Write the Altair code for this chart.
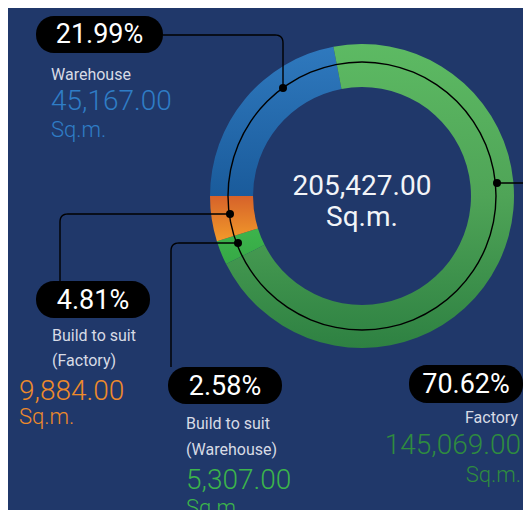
import math
import altair as alt
import pandas as pd

# ---------------- data ----------------
categories = ["Warehouse", "Factory", "Build to suit (Warehouse)", "Build to suit (Factory)"]
areas = [45167.00, 145069.00, 5307.00, 9884.00]
shares = ["21.99%", "70.62%", "2.58%", "4.81%"]
label_lines = [["Warehouse"], ["Factory"], ["Build to suit", "(Warehouse)"], ["Build to suit", "(Factory)"]]
area_texts = ["45,167.00", "145,069.00", "5,307.00", "9,884.00"]
total_text = "205,427.00"
unit = "Sq.m."

# ---------------- styles / layout ----------------
W, H = 515, 502
OFF = 8
BG = "#20386a"
CX, CY = 362 - OFF, 196 - OFF
R_OUT, R_IN, R_LINE = 152, 109, 134
total = sum(areas)

grads = [
    [("#2f79be", 0), ("#1a5b9b", 1)],
    [("#5dba63", 0), ("#4fa457", 0.5), ("#2e8142", 1)],
    [("#3db44c", 0), ("#36a946", 1)],
    [("#d6622a", 0), ("#f29a2a", 1)],
]
value_colors = ["#2f7dc6", "#2f8c3f", "#3cb44b", "#ee8a2a"]
label_color = "#d7dbe5"

# per category: pill box (x1, y1, x2, y2), text anchor x, align, baselines (page pixels)
layout = [
    dict(pill=(36, 16, 163, 53), pct_base=43, ax=51, align="left",
         lab_base=[80], val_base=110, unit_base=137,
         path=[(163, 35), (283, 35), (283, 88)], dot=(283, 88)),
    dict(pill=(409, 365, 523, 403), pct_base=393, ax=518, align="right",
         lab_base=[423], val_base=454, unit_base=482,
         path=[(497, 183), (540, 183)], dot=(497, 183)),
    dict(pill=(168, 367, 282, 404), pct_base=395, ax=186, align="left",
         lab_base=[429, 455], val_base=489, unit_base=515,
         path=[(238, 243), (171, 243), (171, 367)], dot=(238, 243)),
    dict(pill=(36, 281, 150, 318), pct_base=309, ax=52, align="left",
         lab_base=[341, 366], val_base=400, unit_base=424,
         path=[(230, 214), (60, 214), (60, 281)], dot=(230, 214)),
]
val_ax_override = {3: 19, 1: 521}
CORNER_R = 8


def rounded(path, r):
    """Return polyline with rounded interior corners (leader-line geometry)."""
    if len(path) < 3:
        return path
    out = [path[0]]
    for j in range(1, len(path) - 1):
        (ax, ay), (bx, by), (cx, cy) = path[j - 1], path[j], path[j + 1]
        d1 = math.hypot(bx - ax, by - ay)
        d2 = math.hypot(cx - bx, cy - by)
        u1 = ((bx - ax) / d1, (by - ay) / d1)
        u2 = ((cx - bx) / d2, (cy - by) / d2)
        p1 = (bx - u1[0] * r, by - u1[1] * r)
        p2 = (bx + u2[0] * r, by + u2[1] * r)
        n = 8
        for s in range(n + 1):
            t = s / n
            qx = (1 - t) ** 2 * p1[0] + 2 * (1 - t) * t * bx + t ** 2 * p2[0]
            qy = (1 - t) ** 2 * p1[1] + 2 * (1 - t) * t * by + t ** 2 * p2[1]
            out.append((qx, qy))
    out.append(path[-1])
    return out


sx = alt.Scale(domain=[0, W], range=[0, W])
sy = alt.Scale(domain=[0, H], range=[0, H])
theta_scale = alt.Scale(domain=[0, total], range=[1.5 * math.pi, 3.5 * math.pi])

# ---------------- arcs ----------------
df = pd.DataFrame({"category": categories, "area": areas, "order": list(range(len(categories)))})
base = (
    alt.Chart(df)
    .transform_window(end="sum(area)", sort=[alt.SortField("order")], frame=[None, 0])
    .transform_calculate(start="datum.end - datum.area")
)

layers = []
for i, cat in enumerate(categories):
    g = alt.Gradient(
        gradient="linear",
        stops=[alt.GradientStop(color=c, offset=o) for c, o in grads[i]],
        x1=0, x2=0, y1=0, y2=1,
    )
    layers.append(
        base.transform_filter(alt.datum.category == cat)
        .mark_arc(radius=R_OUT, radius2=R_IN, color=g)
        .encode(
            theta=alt.Theta("start:Q", scale=theta_scale),
            theta2="end:Q",
            x=alt.value(CX),
            y=alt.value(CY),
        )
    )

ring_df = pd.DataFrame({"start": [0.0], "end": [total]})
layers.append(
    alt.Chart(ring_df)
    .mark_arc(radius=R_LINE + 0.7, radius2=R_LINE - 0.7, color="#000000")
    .encode(theta=alt.Theta("start:Q", scale=theta_scale), theta2="end:Q",
            x=alt.value(CX), y=alt.value(CY))
)

# ---------------- leaders ----------------
lead_rows, dot_rows, pill_rows = [], [], []
for i, L in enumerate(layout):
    for k, (px, py) in enumerate(rounded(L["path"], CORNER_R)):
        lead_rows.append({"id": i, "k": k, "x": px - OFF, "y": py - OFF})
    dot_rows.append({"x": L["dot"][0] - OFF, "y": L["dot"][1] - OFF})
    x1, y1, x2, y2 = L["pill"]
    pill_rows.append({"x": x1 - OFF, "x2": x2 - OFF, "y": y1 - OFF, "y2": y2 - OFF,
                      "tx": (x1 + x2) / 2 - OFF, "ty": L["pct_base"] - OFF, "pct": shares[i]})

layers.append(
    alt.Chart(pd.DataFrame(lead_rows))
    .mark_line(color="#000000", strokeWidth=1.4, interpolate="linear", clip=True)
    .encode(x=alt.X("x:Q", scale=sx, axis=None), y=alt.Y("y:Q", scale=sy, axis=None),
            detail="id:N", order="k:Q")
)
layers.append(
    alt.Chart(pd.DataFrame(dot_rows))
    .mark_circle(color="#000000", size=64, opacity=1)
    .encode(x=alt.X("x:Q", scale=sx, axis=None), y=alt.Y("y:Q", scale=sy, axis=None))
)
pill_df = pd.DataFrame(pill_rows)
layers.append(
    alt.Chart(pill_df)
    .mark_rect(color="#000000", cornerRadius=18)
    .encode(x=alt.X("x:Q", scale=sx, axis=None), x2="x2:Q",
            y=alt.Y("y:Q", scale=sy, axis=None), y2="y2:Q")
)
layers.append(
    alt.Chart(pill_df)
    .mark_text(font="Roboto", fontSize=27, color="#ffffff", align="center", baseline="alphabetic")
    .encode(x=alt.X("tx:Q", scale=sx, axis=None), y=alt.Y("ty:Q", scale=sy, axis=None), text="pct:N")
)

# ---------------- labels ----------------
for align in ["left", "right"]:
    lab_rows, val_rows, unit_rows = [], [], []
    for i, L in enumerate(layout):
        if L["align"] != align:
            continue
        for t, b in zip(label_lines[i], L["lab_base"]):
            lab_rows.append({"x": L["ax"] - OFF, "y": b - OFF, "t": t})
        vx = val_ax_override.get(i, L["ax"])
        val_rows.append({"x": vx - OFF, "y": L["val_base"] - OFF, "t": area_texts[i], "c": value_colors[i]})
        unit_rows.append({"x": vx - OFF, "y": L["unit_base"] - OFF, "t": unit, "c": value_colors[i]})
    layers.append(
        alt.Chart(pd.DataFrame(lab_rows))
        .mark_text(font="Roboto", fontSize=16, color=label_color, align=align, baseline="alphabetic")
        .encode(x=alt.X("x:Q", scale=sx, axis=None), y=alt.Y("y:Q", scale=sy, axis=None), text="t:N")
    )
    layers.append(
        alt.Chart(pd.DataFrame(val_rows))
        .mark_text(font="Roboto", fontSize=28, fontWeight=300, align=align, baseline="alphabetic")
        .encode(x=alt.X("x:Q", scale=sx, axis=None), y=alt.Y("y:Q", scale=sy, axis=None), text="t:N",
                color=alt.Color("c:N", scale=None))
    )
    layers.append(
        alt.Chart(pd.DataFrame(unit_rows))
        .mark_text(font="Roboto", fontSize=22, fontWeight=300, align=align, baseline="alphabetic")
        .encode(x=alt.X("x:Q", scale=sx, axis=None), y=alt.Y("y:Q", scale=sy, axis=None), text="t:N",
                color=alt.Color("c:N", scale=None))
    )

center_df = pd.DataFrame({"x": [CX, CX], "y": [195 - OFF, 226 - OFF], "t": [total_text, unit]})
layers.append(
    alt.Chart(center_df)
    .mark_text(font="Roboto", fontSize=28, color="#f2f4f8", align="center", baseline="alphabetic")
    .encode(x=alt.X("x:Q", scale=sx, axis=None), y=alt.Y("y:Q", scale=sy, axis=None), text="t:N")
)

chart = (
    alt.layer(*layers)
    .properties(width=W, height=H, background=BG, padding=0,
                autosize=alt.AutoSizeParams(type="none"))
    .configure_view(stroke=None)
)

chart.save("out.html", embed_options={"renderer": "svg", "actions": False})
